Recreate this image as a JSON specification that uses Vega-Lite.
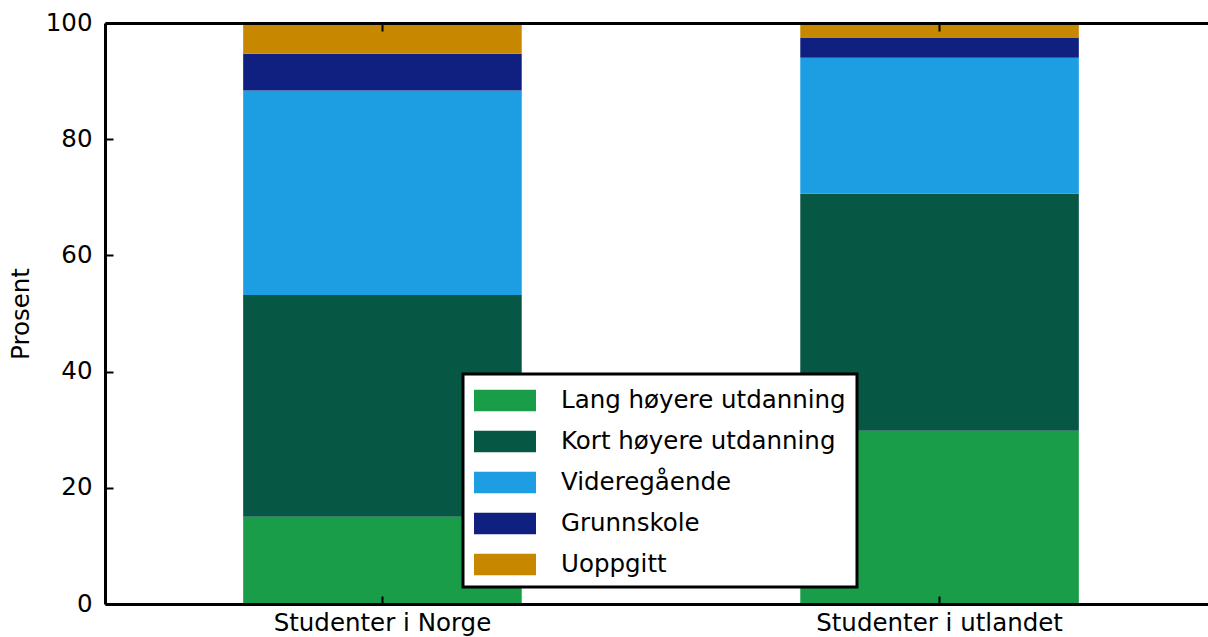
{
  "$schema": "https://vega.github.io/schema/vega-lite/v6.json",
  "width": 1112,
  "height": 581,
  "autosize": {"type": "none"},
  "padding": {"left": 105, "top": 23, "right": 0, "bottom": 33},
  "background": "white",
  "config": {
    "view": {"stroke": null},
    "font": "DejaVu Sans",
    "axis": {
      "labelFontSize": 24.5,
      "labelColor": "black",
      "labelFont": "DejaVu Sans",
      "titleFont": "DejaVu Sans",
      "tickColor": "black",
      "tickWidth": 2,
      "tickSize": -8,
      "ticks": true,
      "domainColor": "black",
      "domainWidth": 3,
      "grid": false
    }
  },
  "data": {
    "values": [
      {"gruppe": "Studenter i Norge", "niva": "Lang høyere utdanning", "rekke": 1, "prosent": 15.0},
      {"gruppe": "Studenter i Norge", "niva": "Kort høyere utdanning", "rekke": 2, "prosent": 38.2},
      {"gruppe": "Studenter i Norge", "niva": "Videregående", "rekke": 3, "prosent": 35.2},
      {"gruppe": "Studenter i Norge", "niva": "Grunnskole", "rekke": 4, "prosent": 6.3},
      {"gruppe": "Studenter i Norge", "niva": "Uoppgitt", "rekke": 5, "prosent": 5.3},
      {"gruppe": "Studenter i utlandet", "niva": "Lang høyere utdanning", "rekke": 1, "prosent": 29.8},
      {"gruppe": "Studenter i utlandet", "niva": "Kort høyere utdanning", "rekke": 2, "prosent": 40.8},
      {"gruppe": "Studenter i utlandet", "niva": "Videregående", "rekke": 3, "prosent": 23.4},
      {"gruppe": "Studenter i utlandet", "niva": "Grunnskole", "rekke": 4, "prosent": 3.5},
      {"gruppe": "Studenter i utlandet", "niva": "Uoppgitt", "rekke": 5, "prosent": 2.5}
    ]
  },
  "layer": [
    {
      "mark": {"type": "bar"},
      "encoding": {
        "x": {
          "field": "gruppe",
          "type": "nominal",
          "sort": ["Studenter i Norge", "Studenter i utlandet"],
          "scale": {"paddingInner": 0.5, "paddingOuter": 0.248},
          "axis": {"orient": "bottom", "title": null, "labelAngle": 0, "labelPadding": 15, "labelLimit": 400, "zindex": 1}
        },
        "y": {
          "field": "prosent",
          "type": "quantitative",
          "stack": "zero",
          "scale": {"domain": [0, 100], "nice": false},
          "axis": {
            "orient": "left",
            "title": "Prosent",
            "titleFontSize": 24.5,
            "titleFontWeight": "normal",
            "titleColor": "black",
            "titlePadding": 12,
            "values": [0, 20, 40, 60, 80, 100],
            "labelPadding": 21,
            "zindex": 1
          }
        },
        "color": {
          "field": "niva",
          "type": "nominal",
          "scale": {
            "domain": ["Lang høyere utdanning", "Kort høyere utdanning", "Videregående", "Grunnskole", "Uoppgitt"],
            "range": ["#1a9d49", "#075745", "#1d9de2", "#0f2080", "#c78800"]
          },
          "legend": {
            "orient": "none",
            "legendX": 358,
            "legendY": 351,
            "title": null,
            "padding": 11,
            "strokeColor": "black",
            "fillColor": "white",
            "cornerRadius": 0,
            "labelFontSize": 24.5,
            "labelColor": "black",
            "labelFont": "DejaVu Sans",
            "labelLimit": 500,
            "symbolType": "M-1,-0.7H3V0.7H-1Z",
            "symbolSize": 961,
            "symbolStrokeWidth": 0,
            "symbolOpacity": 1,
            "rowPadding": 14,
            "labelOffset": 56,
            "zindex": 2,
            "encode": {"legend": {"update": {"strokeWidth": {"value": 3}}}}
          }
        },
        "order": {"field": "rekke", "type": "quantitative"}
      }
    },
    {
      "mark": {"type": "bar", "opacity": 0},
      "encoding": {
        "x": {
          "field": "gruppe",
          "type": "nominal",
          "sort": ["Studenter i Norge", "Studenter i utlandet"],
          "axis": {"orient": "top", "title": null, "labels": false, "zindex": 1}
        },
        "y": {
          "field": "prosent",
          "type": "quantitative",
          "stack": null,
          "axis": {"orient": "right", "title": null, "labels": false, "values": [0, 20, 40, 60, 80, 100], "zindex": 1}
        }
      }
    }
  ],
  "resolve": {"axis": {"x": "independent", "y": "independent"}}
}
